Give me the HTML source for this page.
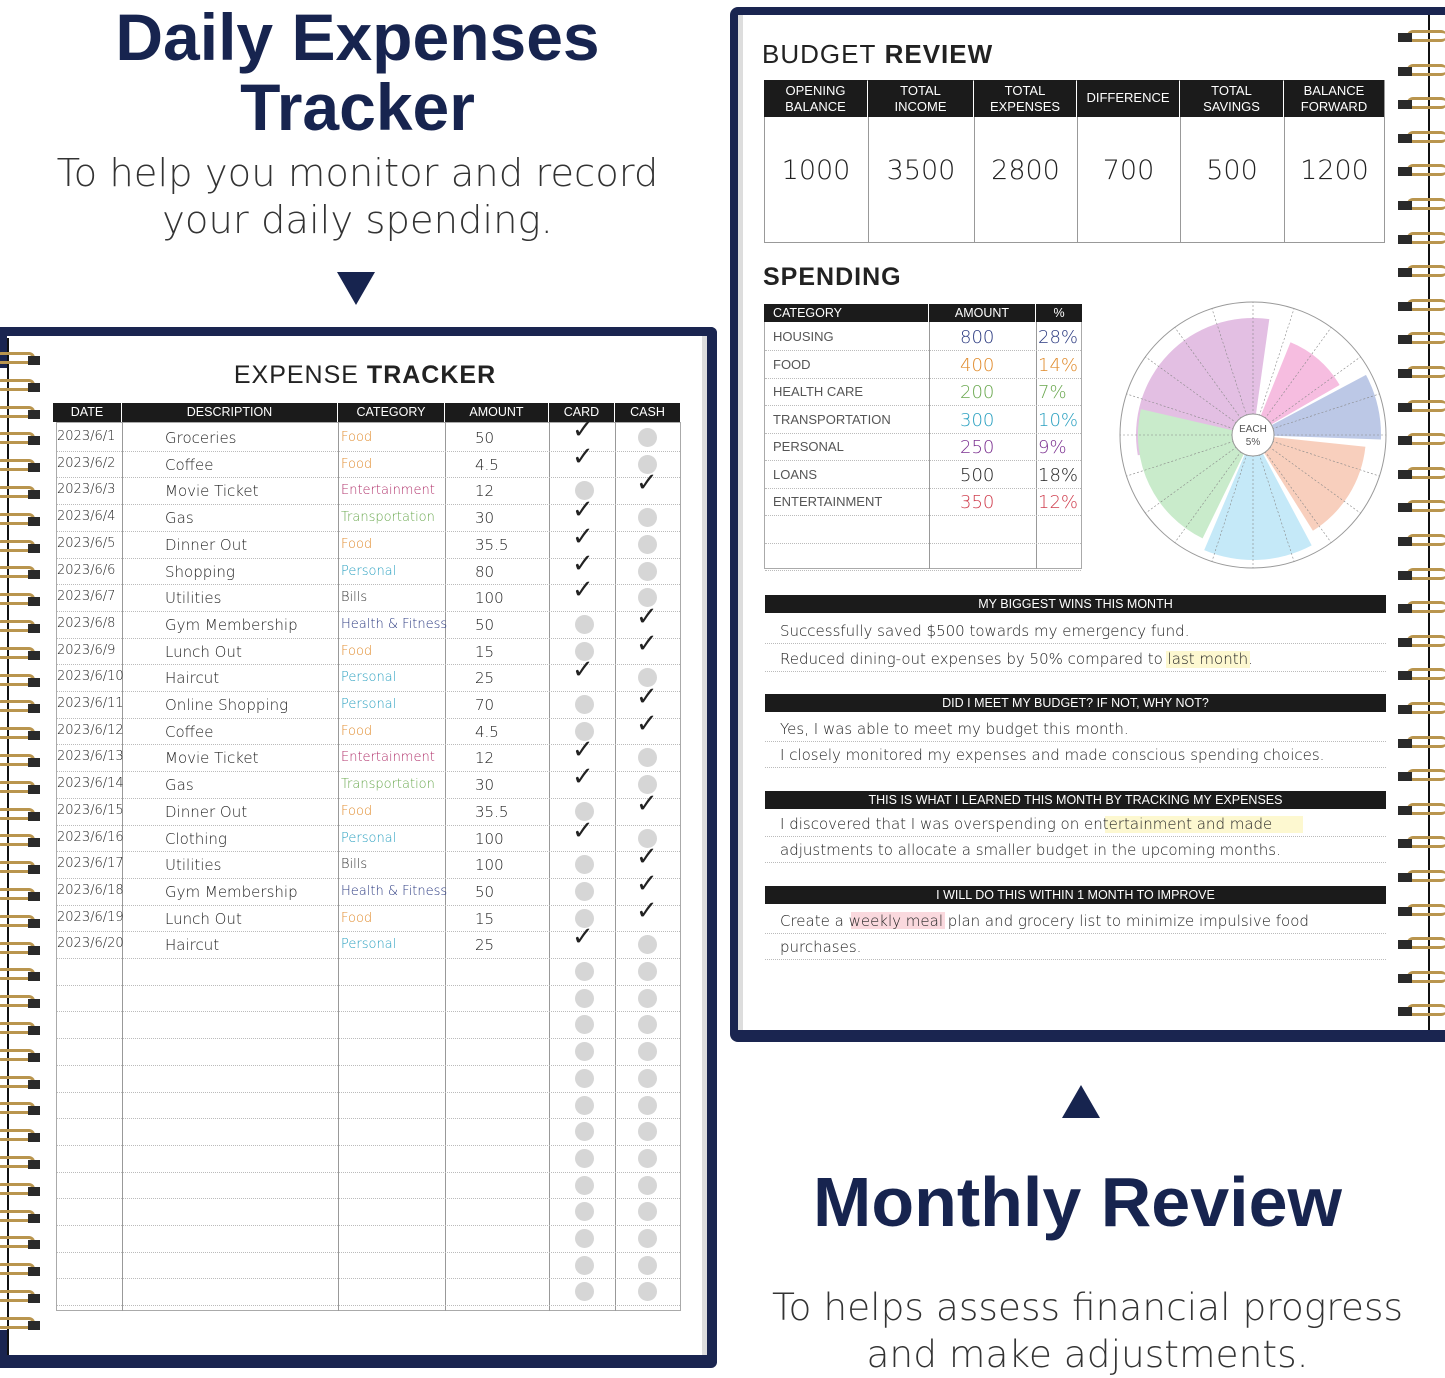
<!DOCTYPE html>
<html><head><meta charset="utf-8">
<style>
*{margin:0;padding:0;box-sizing:border-box}
body{width:1445px;height:1377px;background:#fff;position:relative;overflow:hidden;font-family:"Liberation Sans",sans-serif;color:#111}
.a{position:absolute}
.navy{background:#1a2550}
.hw{font-family:"DejaVu Sans",sans-serif;font-weight:300;font-size:14px;color:#222;white-space:nowrap}
.hd{background:#1b1b1b;color:#fff;font-size:12.5px;text-align:center;position:absolute}
.dot{position:absolute;width:19px;height:19px;border-radius:50%;background:#d6d6d6}
.chk{position:absolute;font-size:26px;color:#222;font-family:"DejaVu Sans",sans-serif}
.vl{position:absolute;width:1px;background:#999}
.hl{position:absolute;height:0;border-top:1px dotted #bbb}
.bar{position:absolute;left:765px;width:621px;height:18px;background:#1b1b1b;color:#fff;font-size:12.5px;text-align:center;line-height:18px}
.ring{position:absolute;width:40px;height:12px;border:3px solid #b9954e;border-radius:6px;border-left:none}
</style></head><body>

<div class="a" style="left:0;width:715px;top:2px;text-align:center;font-size:66px;font-weight:bold;color:#17244f;line-height:70px">Daily Expenses<br>Tracker</div>
<div class="a" style="left:0;width:715px;top:150px;text-align:center;font-size:38.5px;color:#333;line-height:47px;font-family:'DejaVu Sans',sans-serif;font-weight:300">To help you monitor and record<br>your daily spending.</div>
<div class="a" style="left:337px;top:272px;width:0;height:0;border-left:19px solid transparent;border-right:19px solid transparent;border-top:33px solid #17244f"></div>

<div class="a" style="left:1062px;top:1085px;width:0;height:0;border-left:19px solid transparent;border-right:19px solid transparent;border-bottom:33px solid #17244f"></div>
<div class="a" style="left:720px;width:715px;top:1162px;text-align:center;font-size:70px;font-weight:bold;color:#17244f">Monthly Review</div>
<div class="a" style="left:730px;width:715px;top:1284px;text-align:center;font-size:37.5px;color:#333;line-height:47px;font-family:'DejaVu Sans',sans-serif;font-weight:300">To helps assess financial progress<br>and make adjustments.</div>

<div class="a navy" style="left:0;top:327px;width:717px;height:41px;border-radius:0 6px 0 0"></div>
<div class="a navy" style="left:0;top:1330px;width:717px;height:38px;border-radius:0 0 6px 0"></div>
<div class="a navy" style="left:690px;top:327px;width:27px;height:1040px;border-radius:0 6px 6px 0"></div>
<div class="a" style="left:7px;top:336px;width:700px;height:1019px;background:#fff;border-right:5px solid #ddd"></div>
<div class="a" style="left:7px;top:338px;width:2px;height:1017px;background:#111"></div>
<div class="a" style="left:0;width:730px;top:361px;text-align:center;font-size:25px;color:#222;letter-spacing:1px"><span style="font-weight:300">EXPENSE</span> <b>TRACKER</b></div>
<div id="lt"></div>

<div class="a navy" style="left:730px;top:7px;width:715px;height:1035px;border-radius:8px 0 0 8px"></div>
<div class="a" style="left:738px;top:15px;width:707px;height:1015px;background:#fff;border-left:5px solid #ddd"></div>
<div class="a" style="left:1428px;top:15px;width:2px;height:1015px;background:#111"></div>
<div class="a" style="left:762px;top:39px;font-size:26px;color:#222;letter-spacing:1px"><span style="font-weight:300">BUDGET</span> <b>REVIEW</b></div>
<div id="rt"></div>
<div class="a" style="left:763px;top:263px;font-size:25px;font-weight:bold;color:#222;letter-spacing:1px">SPENDING</div>

<svg class="a" style="left:1100px;top:290px" width="300" height="300" id="pie"></svg>

<div class="bar" style="top:595px">MY BIGGEST WINS THIS MONTH</div>
<div class="bar" style="top:694px">DID I MEET MY BUDGET? IF NOT, WHY NOT?</div>
<div class="bar" style="top:791px">THIS IS WHAT I LEARNED THIS MONTH BY TRACKING MY EXPENSES</div>
<div class="bar" style="top:886px">I WILL DO THIS WITHIN 1 MONTH TO IMPROVE</div>
<div id="lines"></div>

<script>
function add(parent,html){document.getElementById(parent).insertAdjacentHTML('beforeend',html);}
var h='';
for(var y=352;y<1335;y+=26.8){h+='<div class="ring" style="left:-5px;top:'+y+'px"></div><div class="a" style="left:28px;top:'+(y+4)+'px;width:12px;height:9px;background:#2a2a2a"></div>';}
var cols=[53,122,338,445,549,615,681];var names=['DATE','DESCRIPTION','CATEGORY','AMOUNT','CARD','CASH'];
for(var i=0;i<6;i++)h+='<div class="hd" style="left:'+cols[i]+'px;top:403px;width:'+(cols[i+1]-cols[i]-1)+'px;height:19px;line-height:19px">'+names[i]+'</div>';
h+='<div class="a" style="left:56px;top:422px;width:625px;height:889px;border:1px solid #aaa"></div>';
for(var i=1;i<6;i++)h+='<div class="vl" style="left:'+cols[i]+'px;top:422px;height:889px"></div>';
var rh=26.7;
var data=[["2023/6/1","Groceries","Food","#e08a2a","50",1],["2023/6/2","Coffee","Food","#e08a2a","4.5",1],["2023/6/3","Movie Ticket","Entertainment","#b0306a","12",0],["2023/6/4","Gas","Transportation","#6aa84f","30",1],["2023/6/5","Dinner Out","Food","#e08a2a","35.5",1],["2023/6/6","Shopping","Personal","#2aa0c0","80",1],["2023/6/7","Utilities","Bills","#333","100",1],["2023/6/8","Gym Membership","Health & Fitness","#2b3a80","50",0],["2023/6/9","Lunch Out","Food","#e08a2a","15",0],["2023/6/10","Haircut","Personal","#2aa0c0","25",1],["2023/6/11","Online Shopping","Personal","#2aa0c0","70",0],["2023/6/12","Coffee","Food","#e08a2a","4.5",0],["2023/6/13","Movie Ticket","Entertainment","#b0306a","12",1],["2023/6/14","Gas","Transportation","#6aa84f","30",1],["2023/6/15","Dinner Out","Food","#e08a2a","35.5",0],["2023/6/16","Clothing","Personal","#2aa0c0","100",1],["2023/6/17","Utilities","Bills","#333","100",0],["2023/6/18","Gym Membership","Health & Fitness","#2b3a80","50",0],["2023/6/19","Lunch Out","Food","#e08a2a","15",0],["2023/6/20","Haircut","Personal","#2aa0c0","25",1]];
for(var r=0;r<33;r++){var y=424+r*rh;
 h+='<div class="hl" style="left:57px;width:623px;top:'+(y+rh)+'px"></div>';
 var d=data[r];var cy=y+4;
 if(d){h+='<div class="a hw" style="left:57px;top:'+(y+5)+'px;font-size:13px">'+d[0]+'</div><div class="a hw" style="left:165px;top:'+(y+5)+'px;font-size:15px">'+d[1]+'</div><div class="a hw" style="left:341px;top:'+(y+6)+'px;font-size:13px;color:'+d[3]+'">'+d[2]+'</div><div class="a hw" style="left:475px;top:'+(y+5)+'px;font-size:15px">'+d[4]+'</div>';
  if(d[5]){h+='<div class="chk" style="left:572px;top:'+(y-9)+'px">✓</div><div class="dot" style="left:638px;top:'+cy+'px"></div>';}
  else{h+='<div class="dot" style="left:575px;top:'+cy+'px"></div><div class="chk" style="left:636px;top:'+(y-9)+'px">✓</div>';}
 } else h+='<div class="dot" style="left:575px;top:'+cy+'px"></div><div class="dot" style="left:638px;top:'+cy+'px"></div>';
}
add('lt',h);

h='';
for(var y=30;y<1010;y+=33.6){h+='<div class="ring" style="left:1407px;top:'+y+'px;transform:scaleX(-1)"></div><div class="a" style="left:1398px;top:'+(y+3)+'px;width:14px;height:9px;background:#2a2a2a"></div>';}
var bc=[764,868,974,1077,1180,1284,1385];var bn=['OPENING<br>BALANCE','TOTAL<br>INCOME','TOTAL<br>EXPENSES','DIFFERENCE','TOTAL<br>SAVINGS','BALANCE<br>FORWARD'];var bv=['1000','3500','2800','700','500','1200'];
h+='<div class="a" style="left:764px;top:80px;width:621px;height:163px;border:1px solid #999"></div>';
for(var i=0;i<6;i++){h+='<div class="hd" style="left:'+bc[i]+'px;top:80px;width:'+(bc[i+1]-bc[i]-1)+'px;height:37px;font-size:13px;line-height:16px;padding-top:'+(i==3?10:3)+'px;font-weight:300">'+bn[i]+'</div>';
 h+='<div class="a hw" style="left:'+bc[i]+'px;width:'+(bc[i+1]-bc[i])+'px;top:155px;text-align:center;font-size:27px">'+bv[i]+'</div>';
 if(i)h+='<div class="vl" style="left:'+bc[i]+'px;top:117px;height:126px"></div>';}
h+='<div class="hd" style="left:764px;top:304px;width:164px;height:18px;text-align:left;padding-left:9px;line-height:18px">CATEGORY</div><div class="hd" style="left:929px;top:304px;width:106px;height:18px;line-height:18px">AMOUNT</div><div class="hd" style="left:1036px;top:304px;width:46px;height:18px;line-height:18px">%</div>';
h+='<div class="a" style="left:764px;top:322px;width:318px;height:247px;border:1px solid #aaa;border-top:none"></div><div class="vl" style="left:929px;top:322px;height:247px"></div><div class="vl" style="left:1036px;top:322px;height:247px"></div>';
var sp=[["HOUSING","800","28%","#2b3a80"],["FOOD","400","14%","#e08a2a"],["HEALTH CARE","200","7%","#6aa84f"],["TRANSPORTATION","300","10%","#2aa0c0"],["PERSONAL","250","9%","#7b3090"],["LOANS","500","18%","#222"],["ENTERTAINMENT","350","12%","#d04050"]];
for(var r=0;r<9;r++){var y=323+r*27.5;h+='<div class="hl" style="left:765px;width:316px;top:'+(y+27)+'px"></div>';
 if(sp[r])h+='<div class="a" style="left:773px;top:'+(y+6)+'px;font-size:13px;color:#555">'+sp[r][0]+'</div><div class="a hw" style="left:960px;top:'+(y+4)+'px;font-size:18px;color:'+sp[r][3]+'">'+sp[r][1]+'</div><div class="a hw" style="left:1038px;top:'+(y+4)+'px;font-size:18px;color:'+sp[r][3]+'">'+sp[r][2]+'</div>';}
add('rt',h);

h='';
var tl=[[640,"Successfully saved $500 towards my emergency fund."],[668,"Reduced dining-out expenses by 50% compared to last month."],[738,"Yes, I was able to meet my budget this month."],[764,"I closely monitored my expenses and made conscious spending choices."],[833,"I discovered that I was overspending on entertainment and made"],[859,"adjustments to allocate a smaller budget in the upcoming months."],[930,"Create a weekly meal plan and grocery list to minimize impulsive food"],[956,"purchases."]];
h+='<div class="a" style="left:1166px;top:651px;width:84px;height:17px;background:#fbf4b0;opacity:.6"></div><div class="a" style="left:1105px;top:816px;width:198px;height:17px;background:#fbf4b0;opacity:.6"></div><div class="a" style="left:851px;top:912px;width:94px;height:17px;background:#f6c0c8;opacity:.6"></div>';
for(var i=0;i<tl.length;i++){h+='<div class="a hw" style="left:780px;top:'+(tl[i][0]-18)+'px;font-size:15px">'+tl[i][1]+'</div><div class="hl" style="left:765px;width:621px;top:'+(tl[i][0]+3)+'px"></div>';}
add('lines',h);

var cx=153,cy=145,s='';
function pt(a,r){a=a*Math.PI/180;return (cx+r*Math.sin(a)).toFixed(1)+','+(cy-r*Math.cos(a)).toFixed(1);}
function wedge(a1,a2,r,c){return '<path d="M'+pt(a1,0)+' L'+pt(a1,r)+' A'+r+','+r+' 0 '+((a2-a1)>180?1:0)+',1 '+pt(a2,r)+' Z" fill="'+c+'"/>';}
s+='<circle cx="'+cx+'" cy="'+cy+'" r="133" fill="#fff" stroke="#999" stroke-width="1"/>';
s+=wedge(-100,8,117,'#e3bfe3');s+=wedge(22,60,100,'#f6bde0');s+=wedge(62,92,128,'#bcc8e6');s+=wedge(96,148,113,'#f8cfbd');s+=wedge(152,203,125,'#c5e9f8');s+=wedge(206,283,115,'#c9ebcb');
for(var a=0;a<360;a+=18)s+='<line x1="'+pt(a,20).split(',')[0]+'" y1="'+pt(a,20).split(',')[1]+'" x2="'+pt(a,133).split(',')[0]+'" y2="'+pt(a,133).split(',')[1]+'" stroke="#888" stroke-width="0.6" stroke-dasharray="2,2"/>';
s+='<circle cx="'+cx+'" cy="'+cy+'" r="21" fill="#fff" stroke="#999"/><text x="'+cx+'" y="'+(cy-3)+'" font-size="10" text-anchor="middle" fill="#555" font-family="Liberation Sans">EACH</text><text x="'+cx+'" y="'+(cy+10)+'" font-size="10" text-anchor="middle" fill="#555" font-family="Liberation Sans">5%</text>';
document.getElementById('pie').innerHTML=s;
</script>
</body></html>
